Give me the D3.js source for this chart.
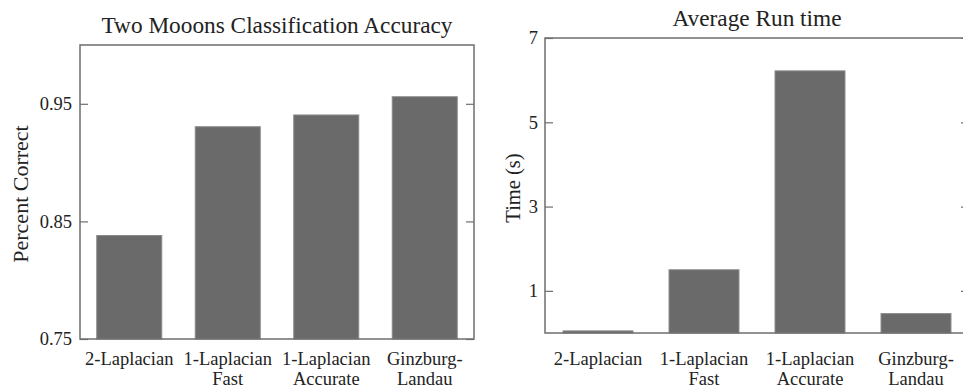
<!DOCTYPE html>
<html><head><meta charset="utf-8">
<script src="https://cdn.jsdelivr.net/npm/d3@7"></script>
<style>
html,body{margin:0;padding:0;background:#fff;}
svg{display:block;}
text{font-family:"Liberation Serif","Times New Roman",serif;fill:#222;}
</style></head>
<body>
<svg id="c" width="963" height="392"></svg>
<script>
const categories = [["2-Laplacian"], ["1-Laplacian","Fast"], ["1-Laplacian","Accurate"], ["Ginzburg-","Landau"]];
const accuracy = [0.838, 0.9305, 0.9405, 0.956];
const runtime = [0.05, 1.5, 6.22, 0.46];
const accTicks = [0.75, 0.85, 0.95];
const timeTicks = [1, 3, 5, 7];

const svg = d3.select("#c");
const barFill = "#6a6a6a", barEdge = "#8a8a8a", spine = "#6e6e6e";

function panel(o) {
  const g = svg.append("g");
  const x = d3.scaleBand().domain(d3.range(categories.length)).range([o.x0, o.x1]).paddingInner(o.pad).paddingOuter(o.pad/2);
  const y = d3.scaleLinear().domain(o.domain).range([o.y1, o.y0]);
  g.selectAll("rect.bar").data(o.values).join("rect")
    .attr("x", (d,i) => x(i)).attr("width", x.bandwidth())
    .attr("y", d => y(d)).attr("height", d => y(o.domain[0]) - y(d))
    .attr("fill", barFill).attr("stroke", barEdge).attr("stroke-width", 1);
  const left = d3.axisLeft(y).tickValues(o.ticks).tickSize(-8).tickPadding(o.tickPad).tickFormat(o.fmt);
  const ga = g.append("g").attr("transform", `translate(${o.x0},0)`).call(left);
  ga.select(".domain").remove();
  ga.selectAll("line").attr("stroke", spine).attr("stroke-width", 1.2);
  ga.selectAll("text").attr("font-size", 18.5).attr("fill", "#222");
  const right = d3.axisRight(y).tickValues(o.ticks).tickSize(-8).tickFormat("");
  const gr = g.append("g").attr("transform", `translate(${o.x1},0)`).call(right);
  gr.select(".domain").remove();
  gr.selectAll("line").attr("stroke", spine).attr("stroke-width", 1.2);
  g.append("rect").attr("x", o.x0).attr("y", o.y0).attr("width", o.x1 - o.x0).attr("height", o.y1 - o.y0)
    .attr("fill", "none").attr("stroke", spine).attr("stroke-width", 1.5);
  const xl = g.selectAll("text.xl").data(categories).join("text").attr("class","xl")
    .attr("text-anchor","middle").attr("font-size", 18.5)
    .attr("transform", (d,i) => `translate(${x(i) + x.bandwidth()/2},365)`);
  xl.selectAll("tspan").data(d => d).join("tspan").attr("x", 0).attr("dy", (d,j) => j ? 20 : 0).text(d => d);
  g.append("text").attr("x", (o.x0 + o.x1)/2).attr("y", o.titleY).attr("text-anchor","middle")
    .attr("font-size", 23.3).text(o.title);
  g.append("text").attr("transform", `translate(${o.ylx},${o.yly}) rotate(-90)`).attr("text-anchor","middle")
    .attr("font-size", o.ylSize).text(o.ylabel);
}

panel({x0:80, x1:474, y0:45, y1:339, pad:0.34, domain:[0.75, 1.0], values:accuracy, ticks:accTicks, tickPad:8,
  fmt: d3.format(".2f"), title:"Two Mooons Classification Accuracy", titleY:33, ylabel:"Percent Correct", ylx:28, yly:194, ylSize:22});
panel({x0:545, x1:969, y0:38, y1:333, pad:0.34, domain:[0, 7], values:runtime, ticks:timeTicks, tickPad:7,
  fmt: d3.format("d"), title:"Average Run time", titleY:26, ylabel:"Time (s)", ylx:520, yly:188, ylSize:20.5});
</script>
</body></html>
